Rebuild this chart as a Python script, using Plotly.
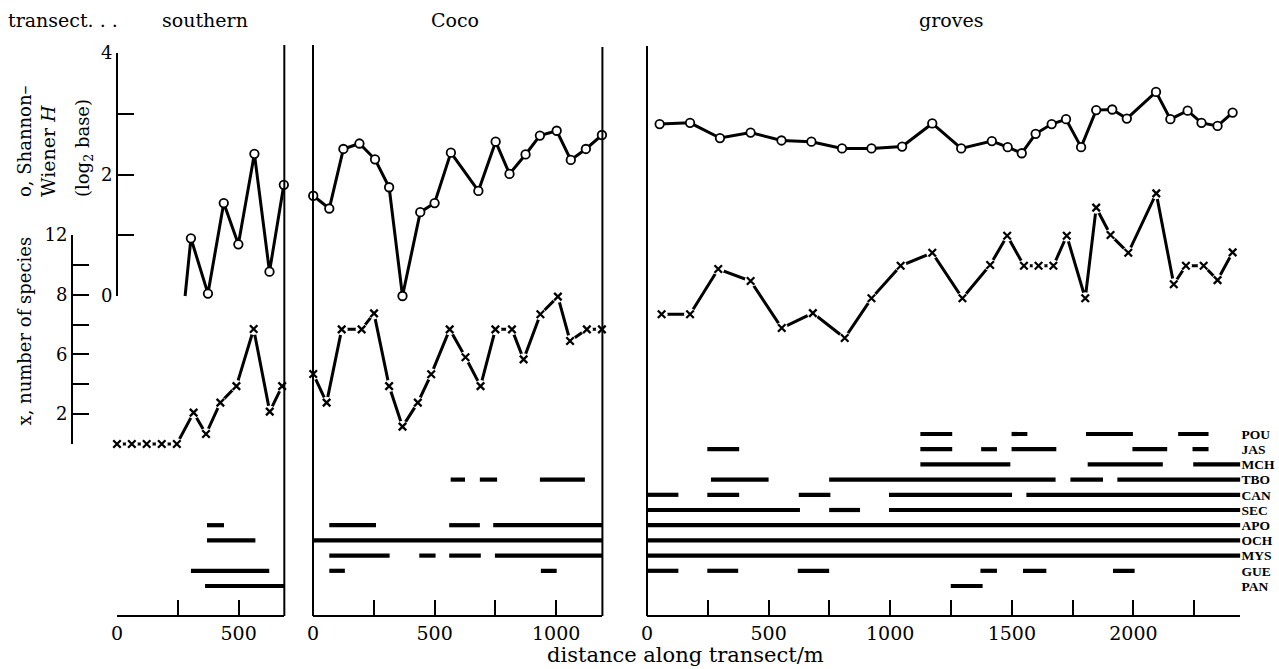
import plotly.graph_objects as go

W, HGT = 1279, 669

# ---------------- data ----------------
PANELS = ["southern", "Coco", "groves"]
PANEL_MAX_M = [688, 1190, 2440]

# Shannon-Wiener H (log2 base)
SOUTH_H_X = [280, 304, 374, 439, 499, 565, 627, 686]
SOUTH_H = [0.0, 0.95, 0.04, 1.53, 0.85, 2.34, 0.40, 1.83]
COCO_H_X = [1, 67, 125, 191, 255, 313, 368, 441, 500, 567, 680, 751, 808, 874, 933, 1002, 1060, 1122, 1188]
COCO_H = [1.65, 1.44, 2.42, 2.51, 2.25, 1.79, 0.0, 1.38, 1.53, 2.36, 1.73, 2.54, 2.01, 2.33, 2.64, 2.72, 2.24, 2.42, 2.65]
GROVES_H_X = [52, 177, 300, 426, 553, 676, 802, 923, 1049, 1173, 1292, 1418, 1483, 1541, 1598, 1664, 1723,
              1785, 1847, 1913, 1973, 2093, 2152, 2223, 2280, 2346, 2408]
GROVES_H = [2.83, 2.85, 2.60, 2.69, 2.56, 2.54, 2.43, 2.43, 2.46, 2.84, 2.43, 2.55, 2.45, 2.35, 2.67, 2.83, 2.91,
            2.45, 3.06, 3.07, 2.92, 3.36, 2.91, 3.05, 2.85, 2.80, 3.02]

# number of species (in tick units of the left scale)
SOUTH_N_X = [0, 61, 122, 184, 246, 315, 366, 425, 491, 562, 628, 679]
SOUTH_N = [0, 0, 0, 0, 0, 2.1, 0.67, 2.77, 3.88, 7.7, 2.17, 3.88]
COCO_N_X = [1, 56, 118, 200, 251, 313, 368, 431, 486, 562, 627, 689, 750, 818, 866, 935, 1007, 1057, 1126, 1188]
COCO_N = [4.69, 2.77, 7.68, 7.68, 8.75, 3.88, 1.16, 2.77, 4.67, 7.68, 5.81, 3.88, 7.68, 7.68, 5.67, 8.69, 9.87,
          6.9, 7.68, 7.68]
GROVES_N_X = [60, 177, 293, 426, 554, 682, 813, 923, 1043, 1173, 1297, 1411, 1481, 1550, 1610, 1671, 1726,
              1802, 1847, 1906, 1979, 2094, 2166, 2216, 2289, 2346, 2408]
GROVES_N = [8.69, 8.69, 11.72, 10.92, 7.77, 8.77, 7.1, 9.76, 11.94, 12.81, 9.76, 11.99, 13.95, 11.94, 11.94,
            11.94, 13.95, 9.76, 15.83, 14.0, 12.81, 16.79, 10.7, 11.94, 11.94, 10.98, 12.84]

# presence of tree species along the transects (start, end in m)
ROWS = ["PAN", "GUE", "MYS", "OCH", "APO", "SEC", "CAN", "TBO", "MCH", "JAS", "POU"]
SOUTH_BARS = {
    "APO": [(370, 440)],
    "OCH": [(370, 569)],
    "GUE": [(304, 626)],
    "PAN": [(362, 688)],
}
COCO_BARS = {
    "TBO": [(566, 625), (686, 757), (933, 1118)],
    "APO": [(67, 259), (560, 686), (741, 1190)],
    "OCH": [(0, 1190)],
    "MYS": [(67, 315), (437, 504), (560, 690), (748, 1190)],
    "GUE": [(67, 131), (937, 1002)],
}
GROVES_BARS = {
    "POU": [(1124, 1255), (1499, 1564), (1805, 1998), (2184, 2309)],
    "JAS": [(248, 379), (1124, 1255), (1374, 1439), (1499, 1683), (1996, 2139), (2243, 2309)],
    "MCH": [(1124, 1494), (1812, 2121), (2246, 2440)],
    "TBO": [(263, 500), (749, 1680), (1741, 1875), (1934, 2440)],
    "CAN": [(0, 129), (248, 379), (624, 754), (995, 1501), (1560, 2440)],
    "SEC": [(0, 629), (749, 876), (995, 2440)],
    "APO": [(0, 2440)],
    "OCH": [(0, 2440)],
    "MYS": [(0, 2440)],
    "GUE": [(0, 129), (248, 375), (620, 749), (1371, 1439), (1546, 1642), (1916, 2005)],
    "PAN": [(1249, 1380)],
}

H_TICKVALS = [0, 1, 2, 3, 4]
H_TICKTEXT = ["0", "", "2", "", "4"]
N_TICKVALS = [0, 2, 4, 6, 8, 10, 12, 14]
N_TICKTEXT = ["", "2", "", "6", "", "8", "", "12"]

# ---------------- geometry (pixels) ----------------
PX_PER_M = 0.2432
PANEL_LEFT_PX = [117, 313, 647]
AXIS_Y_PX = 616
TOP_PX = [45, 45, 46]
H0_PX, H4_PX = 296, 53
N0_PX, N14_PX = 444, 235
ROW0_PX, ROW10_PX = 586, 434
H_AXIS_X_PX = 117
N_AXIS_X_PX = 72

FONT = "DejaVu Serif"


def yp(p):
    return 1 - p / HGT


def xp(p):
    return p / W


def full_range(v0, p0, v1, p1):
    k = (v1 - v0) / (p0 - p1)
    return [v0 - (HGT - p0) * k, v0 + p0 * k]


fig = go.Figure()
xnames = ["x", "x2", "x3"]
H_SETS = [(SOUTH_H_X, SOUTH_H), (COCO_H_X, COCO_H), (GROVES_H_X, GROVES_H)]
N_SETS = [(SOUTH_N_X, SOUTH_N), (COCO_N_X, COCO_N), (GROVES_N_X, GROVES_N)]
BAR_SETS = [SOUTH_BARS, COCO_BARS, GROVES_BARS]

for i, xa in enumerate(xnames):
    # presence bars
    bx, by = [], []
    for name, segs in BAR_SETS[i].items():
        r = ROWS.index(name)
        for a, b in segs:
            bx += [a, b, None]
            by += [r, r, None]
    fig.add_trace(go.Scatter(x=bx, y=by, xaxis=xa, yaxis="y3", mode="lines",
                             line=dict(color="black", width=4.2), hoverinfo="skip", showlegend=False))
    # species number
    nx, ny = N_SETS[i]
    fig.add_trace(go.Scatter(x=nx, y=ny, xaxis=xa, yaxis="y2", mode="lines",
                             line=dict(color="black", width=3), showlegend=False))
    fig.add_trace(go.Scatter(x=nx, y=ny, xaxis=xa, yaxis="y2", mode="markers", cliponaxis=False,
                             marker=dict(symbol="circle", size=12, color="white", line=dict(width=0)),
                             showlegend=False, hoverinfo="skip"))
    fig.add_trace(go.Scatter(x=nx, y=ny, xaxis=xa, yaxis="y2", mode="markers", cliponaxis=False,
                             marker=dict(symbol="x-thin", size=7.5, line=dict(width=2.3, color="black")),
                             showlegend=False))
    # Shannon H
    hx, hy = H_SETS[i]
    op = [0 if (i == 0 and j == 0) else 1 for j in range(len(hx))]
    fig.add_trace(go.Scatter(x=hx, y=hy, xaxis=xa, yaxis="y", mode="lines+markers", cliponaxis=False,
                             line=dict(color="black", width=3),
                             marker=dict(symbol="circle", size=8.5, color="white", opacity=op,
                                         line=dict(width=1.8, color="black")),
                             showlegend=False))

# dummy traces for the visible scale axes
fig.add_trace(go.Scatter(x=[None], y=[None], xaxis="x", yaxis="y4", showlegend=False, hoverinfo="skip"))
fig.add_trace(go.Scatter(x=[None], y=[None], xaxis="x", yaxis="y5", showlegend=False, hoverinfo="skip"))

hidden = dict(showline=False, showgrid=False, zeroline=False, ticks="", showticklabels=False,
              automargin=False)

lay = {}
for i, xa in enumerate(xnames):
    left = PANEL_LEFT_PX[i]
    right = left + PANEL_MAX_M[i] * PX_PER_M
    key = "xaxis" if i == 0 else f"xaxis{i + 1}"
    lay[key] = dict(domain=[xp(left), xp(right)], range=[0, PANEL_MAX_M[i]], anchor="free",
                    position=yp(AXIS_Y_PX), showline=True, linewidth=2, linecolor="black",
                    showgrid=False, zeroline=False, ticks="inside", ticklen=15, tickwidth=2,
                    tickcolor="black", tick0=0, dtick=500, automargin=False,
                    minor=dict(ticks="inside", ticklen=15, tickwidth=2, tickcolor="black", dtick=250,
                               showgrid=False),
                    tickfont=dict(family=FONT, size=19, color="black"))

lay["yaxis"] = dict(domain=[0, 1], range=full_range(0, H0_PX, 4, H4_PX), anchor="x", **hidden)
lay["yaxis2"] = dict(domain=[0, 1], range=full_range(0, N0_PX, 14, N14_PX), anchor="x", **hidden)
lay["yaxis3"] = dict(domain=[0, 1], range=full_range(0, ROW0_PX, 10, ROW10_PX), anchor="x3", side="right",
                     showline=False, showgrid=False, zeroline=False, ticks="", automargin=False,
                     tickvals=list(range(len(ROWS))), ticktext=ROWS,
                     tickfont=dict(family="Liberation Serif", size=13.5, color="black", weight="bold"))
lay["yaxis4"] = dict(domain=[yp(H0_PX), yp(H4_PX)], range=[0, 4], anchor="free", position=xp(H_AXIS_X_PX),
                     side="left", showline=True, linewidth=2, linecolor="black", showgrid=False,
                     zeroline=False, ticks="inside", ticklen=16, tickwidth=2, tickcolor="black",
                     tickvals=H_TICKVALS, ticktext=H_TICKTEXT, automargin=False,
                     tickfont=dict(family=FONT, size=18, color="black"))
lay["yaxis5"] = dict(domain=[yp(N0_PX), yp(N14_PX)], range=[0, 14], anchor="free", position=xp(N_AXIS_X_PX),
                     side="left", showline=True, linewidth=2, linecolor="black", showgrid=False,
                     zeroline=False, ticks="inside", ticklen=16, tickwidth=2, tickcolor="black",
                     tickvals=N_TICKVALS, ticktext=N_TICKTEXT, automargin=False,
                     tickfont=dict(family=FONT, size=18, color="black"))

shapes = []
frame = [("x domain", 1, TOP_PX[0]), ("x2 domain", 0, TOP_PX[1]), ("x2 domain", 1, TOP_PX[1] + 2),
         ("x3 domain", 0, TOP_PX[2])]
for ref, xv, top in frame:
    shapes.append(dict(type="line", xref=ref, yref="paper", x0=xv, x1=xv, y0=yp(AXIS_Y_PX), y1=yp(top),
                       line=dict(color="black", width=2)))

tf = dict(family=FONT, size=18, color="black")
ann = [
    dict(text="transect. . .", x=xp(6), y=yp(20), xanchor="left", yanchor="middle", font=dict(size=19)),
    dict(text=PANELS[0], x=xp(205), y=yp(20), xanchor="center", yanchor="middle", font=dict(size=19)),
    dict(text=PANELS[1], x=xp(455), y=yp(20), xanchor="center", yanchor="middle", font=dict(size=19)),
    dict(text=PANELS[2], x=xp(951), y=yp(20), xanchor="center", yanchor="middle", font=dict(size=19)),
    dict(text="distance along transect/m", x=xp(685), y=yp(655), xanchor="center", yanchor="middle",
         font=dict(size=21)),
    dict(text="o, Shannon\u2013", x=xp(24), y=yp(199), xanchor="center", yanchor="bottom", textangle=-90),
    dict(text="Wiener <i>H</i>", x=xp(48), y=yp(199), xanchor="center", yanchor="bottom", textangle=-90,
         font=dict(size=19)),
    dict(text="(log<sub>2</sub> base)", x=xp(84), y=yp(199), xanchor="center", yanchor="bottom",
         textangle=-90),
    dict(text="x, number of species", x=xp(24), y=yp(428), xanchor="center", yanchor="bottom",
         textangle=-90),
]
for a in ann:
    f = dict(tf)
    f.update(a.get("font", {}))
    a.update(xref="paper", yref="paper", showarrow=False, font=f)

fig.update_layout(template="none", width=W, height=HGT, margin=dict(l=0, r=0, t=0, b=0, pad=0),
                  autosize=False, showlegend=False,
                  paper_bgcolor="#ffffff", plot_bgcolor="rgba(0,0,0,0)", shapes=shapes, annotations=ann,
                  font=dict(family=FONT, color="black"), **lay)

fig.write_html("out.html")
